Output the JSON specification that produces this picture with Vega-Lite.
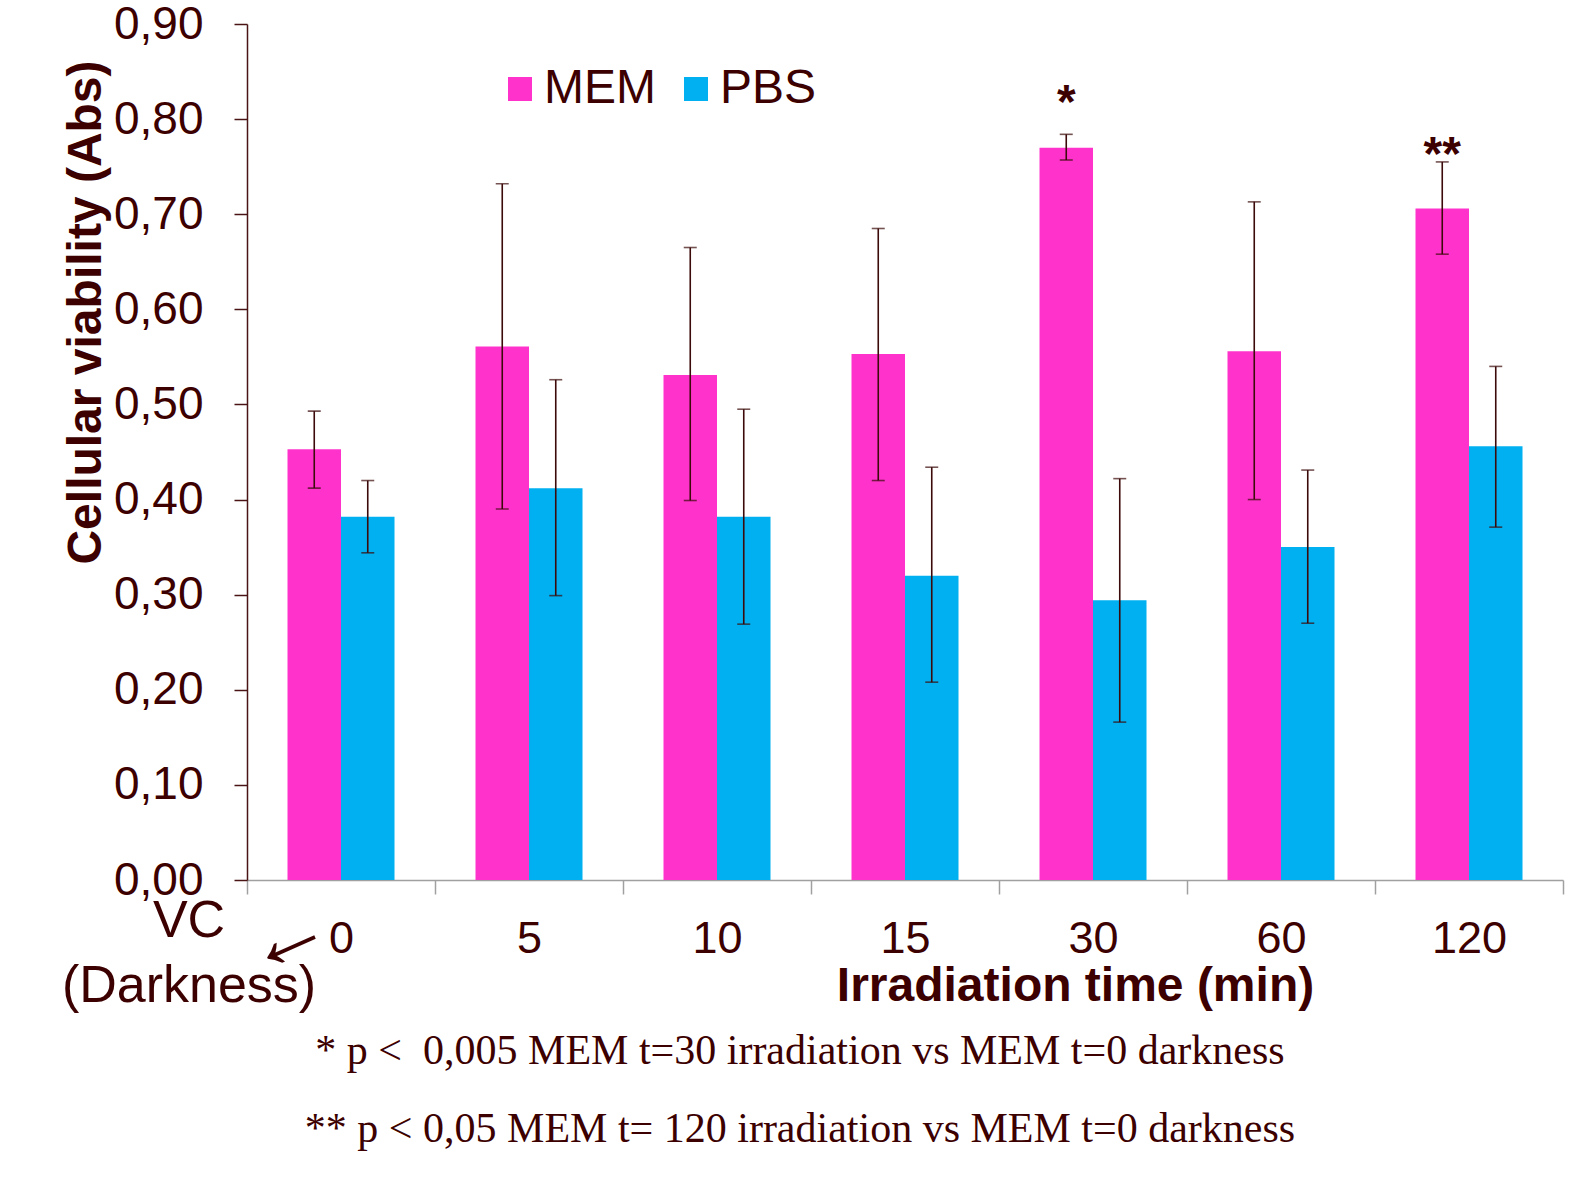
{
  "$schema": "https://vega.github.io/schema/vega-lite/v6.json",
  "width": 1316,
  "height": 856,
  "autosize": {"type": "none"},
  "padding": {"left": 247, "top": 24, "right": 28, "bottom": 297},
  "background": "white",
  "config": {
    "font": "Liberation Sans",
    "view": {"stroke": null},
    "axis": {"grid": false}
  },
  "title": {
    "text": ["* p <\u00a0 0,005 MEM t=30 irradiation vs MEM t=0 darkness", "** p < 0,05 MEM t= 120 irradiation vs MEM t=0 darkness"],
    "orient": "bottom",
    "anchor": "middle",
    "frame": "group",
    "font": "Liberation Serif",
    "fontSize": 42,
    "fontWeight": "normal",
    "color": "#3c0000",
    "lineHeight": 78,
    "dx": -105,
    "offset": 19
  },
  "datasets": {
    "bars": [
      {"time": "0", "series": "MEM", "value": 0.453, "lo": 0.412, "hi": 0.493},
      {"time": "0", "series": "PBS", "value": 0.382, "lo": 0.344, "hi": 0.420},
      {"time": "5", "series": "MEM", "value": 0.561, "lo": 0.390, "hi": 0.732},
      {"time": "5", "series": "PBS", "value": 0.412, "lo": 0.299, "hi": 0.526},
      {"time": "10", "series": "MEM", "value": 0.531, "lo": 0.399, "hi": 0.665},
      {"time": "10", "series": "PBS", "value": 0.382, "lo": 0.269, "hi": 0.495},
      {"time": "15", "series": "MEM", "value": 0.553, "lo": 0.420, "hi": 0.685},
      {"time": "15", "series": "PBS", "value": 0.320, "lo": 0.208, "hi": 0.434},
      {"time": "30", "series": "MEM", "value": 0.770, "lo": 0.757, "hi": 0.784},
      {"time": "30", "series": "PBS", "value": 0.294, "lo": 0.166, "hi": 0.422},
      {"time": "60", "series": "MEM", "value": 0.556, "lo": 0.400, "hi": 0.713},
      {"time": "60", "series": "PBS", "value": 0.350, "lo": 0.270, "hi": 0.431},
      {"time": "120", "series": "MEM", "value": 0.706, "lo": 0.658, "hi": 0.755},
      {"time": "120", "series": "PBS", "value": 0.456, "lo": 0.371, "hi": 0.540}
    ],
    "stars": [
      {"time": "30", "series": "MEM", "star": "*", "pos": 0.801},
      {"time": "120", "series": "MEM", "star": "**", "pos": 0.747}
    ],
    "notes": [
      {"time": "0", "note": "VC\n(Darkness)", "arrow": "←"}
    ]
  },
  "encoding": {
    "x": {
      "field": "time",
      "type": "nominal",
      "sort": ["0", "5", "10", "15", "30", "60", "120"],
      "scale": {"domain": ["0", "5", "10", "15", "30", "60", "120"], "paddingInner": 0, "paddingOuter": 0},
      "axis": {
        "title": "Irradiation time (min)",
        "titleFontSize": 48,
        "titleFontWeight": "bold",
        "titleColor": "#3c0000",
        "titleX": 828,
        "titleY": 120,
        "titleAlign": "center",
        "titleBaseline": "alphabetic",
        "labelAngle": 0,
        "labelFontSize": 45,
        "labelColor": "#3c0000",
        "labelPadding": 22,
        "tickBand": "extent",
        "tickSize": 14,
        "tickColor": "#a0a0a0",
        "tickWidth": 1.5,
        "domainColor": "#a0a0a0",
        "domainWidth": 1.5
      }
    }
  },
  "layer": [
    {
      "data": {"name": "bars"},
      "mark": {"type": "bar"},
      "encoding": {
        "xOffset": {"field": "series", "type": "nominal", "scale": {"domain": ["MEM", "PBS"], "paddingInner": 0, "paddingOuter": 0.757}},
        "y": {
          "field": "value",
          "type": "quantitative",
          "scale": {"domain": [0, 0.9], "nice": false, "zero": true},
          "axis": {
            "title": "Cellular viability (Abs)",
            "titleFontSize": 48,
            "titleFontWeight": "bold",
            "titleColor": "#3c0000",
            "titleAngle": -90,
            "titleX": -147,
            "titleY": 288,
            "titleAlign": "center",
            "titleBaseline": "alphabetic",
            "values": [0, 0.1, 0.2, 0.3, 0.4, 0.5, 0.6, 0.7, 0.8, 0.9],
            "labelExpr": "replace(format(datum.value, '.2f'), '.', ',')",
            "labelFontSize": 46,
            "labelColor": "#3c0000",
            "labelPadding": 31,
            "tickSize": 13,
            "tickColor": "#4a1414",
            "tickWidth": 1.5,
            "domainColor": "#4a1414",
            "domainWidth": 1.5
          }
        },
        "color": {
          "field": "series",
          "type": "nominal",
          "scale": {"domain": ["MEM", "PBS"], "range": ["#ff33cc", "#00b0f0"]},
          "legend": {
            "title": null,
            "orient": "none",
            "legendX": 249,
            "legendY": 41,
            "direction": "horizontal",
            "symbolType": "square",
            "symbolSize": 576,
            "symbolStrokeWidth": 0,
            "labelFontSize": 48,
            "labelColor": "#3c0000",
            "labelOffset": 0,
            "columnPadding": 16,
            "padding": 0
          }
        }
      }
    },
    {
      "data": {"name": "bars"},
      "mark": {"type": "rule", "color": "#3c0a0a", "strokeWidth": 1.6},
      "encoding": {
        "xOffset": {"field": "series", "type": "nominal"},
        "y": {"field": "lo", "type": "quantitative"},
        "y2": {"field": "hi"}
      }
    },
    {
      "data": {"name": "bars"},
      "mark": {"type": "tick", "orient": "horizontal", "color": "#3c0a0a", "size": 13, "thickness": 1.6},
      "encoding": {
        "xOffset": {"field": "series", "type": "nominal"},
        "y": {"field": "hi", "type": "quantitative"}
      }
    },
    {
      "data": {"name": "bars"},
      "mark": {"type": "tick", "orient": "horizontal", "color": "#3c0a0a", "size": 13, "thickness": 1.6},
      "encoding": {
        "xOffset": {"field": "series", "type": "nominal"},
        "y": {"field": "lo", "type": "quantitative"}
      }
    },
    {
      "data": {"name": "stars"},
      "mark": {"type": "text", "fontSize": 48, "fontWeight": "bold", "color": "#3c0000", "baseline": "alphabetic", "align": "center"},
      "encoding": {
        "xOffset": {"field": "series", "type": "nominal"},
        "y": {"field": "pos", "type": "quantitative"},
        "text": {"field": "star"}
      }
    },
    {
      "data": {"name": "notes"},
      "mark": {"type": "text", "fontSize": 52, "color": "#3c0000", "baseline": "alphabetic", "align": "center", "lineBreak": "\n", "lineHeight": 65, "dx": -152, "dy": 57},
      "encoding": {
        "y": {"datum": 0, "type": "quantitative"},
        "text": {"field": "note"}
      }
    },
    {
      "data": {"name": "notes"},
      "mark": {"type": "text", "fontSize": 88, "color": "#3c0000", "baseline": "middle", "align": "center", "angle": -24, "dx": -73, "dy": 30},
      "encoding": {
        "y": {"datum": 0, "type": "quantitative"},
        "text": {"field": "arrow"}
      }
    }
  ]
}
